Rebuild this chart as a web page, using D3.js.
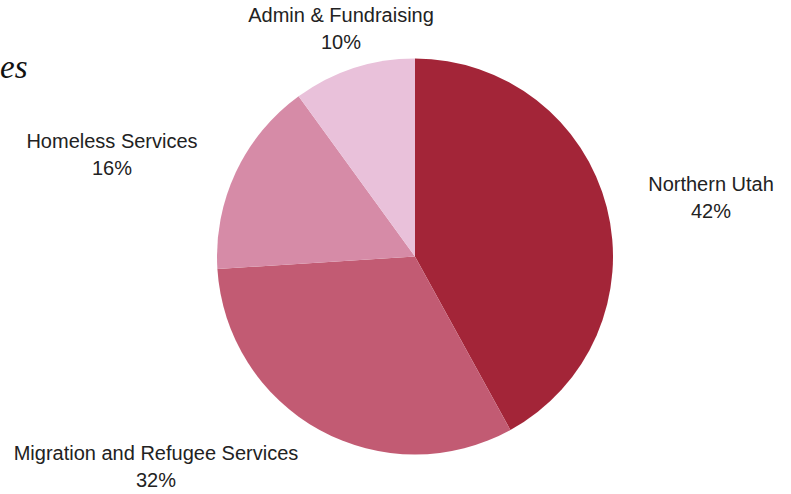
<!DOCTYPE html>
<html>
<head>
<meta charset="utf-8">
<script src="https://cdn.jsdelivr.net/npm/d3@7"></script>
<style>
  body { margin: 0; background: #fff; }
  svg { display: block; }
</style>
</head>
<body>
<svg id="chart" width="791" height="494"></svg>
<script>
var categories = ['Northern Utah', 'Migration and Refugee Services', 'Homeless Services', 'Admin & Fundraising'];
var shares = [42, 32, 16, 10];
var colors = ['#a32538', '#c25b73', '#d68ba7', '#e9c1da'];
// label anchor points (layout only)
var labelPos = [[711, 191], [156, 460], [112, 148], [341, 22]];

var svg = d3.select('#chart');
var cx = 415, cy = 256.5, radius = 198;

var data = categories.map(function(c, i){
    return { name: c, value: shares[i], color: colors[i], pos: labelPos[i] };
});

var pie = d3.pie()
    .sort(null)
    .value(function(d){ return d.value; });

var arc = d3.arc().innerRadius(0).outerRadius(radius);

var g = svg.append('g').attr('transform', 'translate(' + cx + ',' + cy + ')');

g.selectAll('path')
    .data(pie(data))
    .enter()
    .append('path')
    .attr('d', arc)
    .style('fill', function(d){ return d.data.color; });

var labels = svg.selectAll('text.label')
    .data(data)
    .enter()
    .append('text')
    .attr('class', 'label')
    .attr('text-anchor', 'middle')
    .style('font-family', 'Liberation Sans, Arial, sans-serif')
    .style('font-size', '20px')
    .style('fill', '#222');

labels.append('tspan')
    .attr('x', function(d){ return d.pos[0]; })
    .attr('y', function(d){ return d.pos[1]; })
    .text(function(d){ return d.name; });

labels.append('tspan')
    .attr('x', function(d){ return d.pos[0]; })
    .attr('y', function(d){ return d.pos[1] + 27; })
    .text(function(d){ return d.value + '%'; });

svg.append('text')
    .attr('x', 0)
    .attr('y', 78)
    .style('font-family', 'Liberation Serif, serif')
    .style('font-style', 'italic')
    .style('font-size', '33px')
    .style('fill', '#111')
    .text('es');
</script>
</body>
</html>
